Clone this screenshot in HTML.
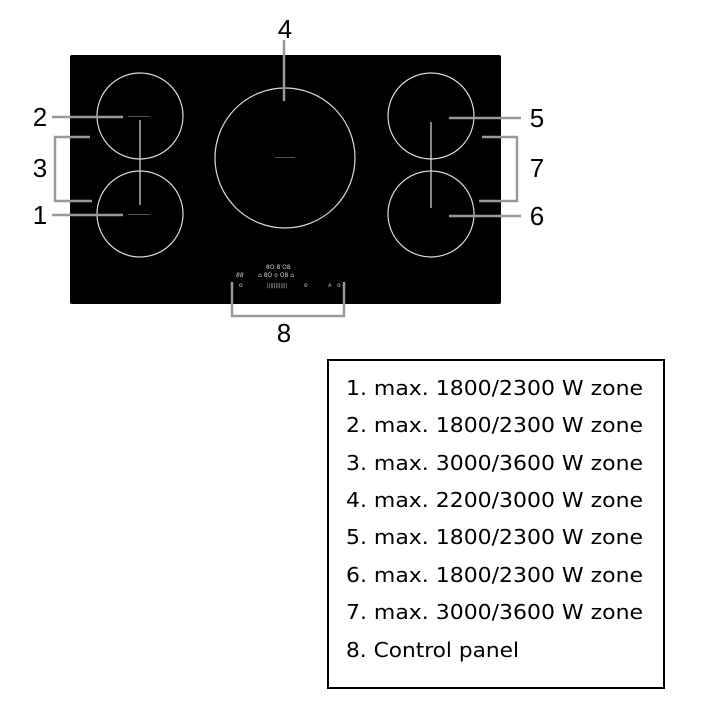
<!DOCTYPE html>
<html><head><style>
html,body{margin:0;padding:0;background:#fff;width:720px;height:720px;overflow:hidden}
svg{display:block}
</style></head><body>
<svg width="720" height="720" viewBox="0 0 720 720" xmlns="http://www.w3.org/2000/svg">
<rect x="70" y="55" width="431" height="249" rx="2" fill="#000"/>
<g fill="none" stroke="#ddd" stroke-width="1.2">
<circle cx="140" cy="116" r="43"/>
<circle cx="140" cy="214" r="43"/>
<circle cx="285" cy="158" r="70"/>
<circle cx="431" cy="116" r="43"/>
<circle cx="431" cy="214" r="43"/>
<line x1="140" y1="120" x2="140" y2="205"/>
<line x1="431" y1="122" x2="431" y2="208"/>
</g>
<g fill="#666">
<rect x="128" y="116" width="22" height="0.8"/>
<rect x="128" y="214" width="22" height="0.8"/>
<rect x="275" y="157" width="20" height="0.8"/>
</g>
<g fill="#ccc" font-family="DejaVu Sans,sans-serif" font-size="6">
<text x="266" y="269">8O 8 O8</text>
<text x="258" y="277">⌂ 8O o O8 ⌂</text>
<text x="236" y="277" font-style="italic">88</text>
<text x="239" y="287">o</text>
<text x="267" y="287" font-size="5">||||||||||||</text>
<text x="304" y="287">o</text>
<text x="328" y="287">ᴧ</text>
<text x="337" y="287">o</text>
</g>
<g fill="none" stroke="#999" stroke-width="2.5">
<line x1="52" y1="117" x2="123" y2="117"/>
<line x1="52" y1="215" x2="123" y2="215"/>
<polyline points="90,137 55,137 55,201 92,201"/>
<line x1="284" y1="40" x2="284" y2="101"/>
<line x1="449" y1="118" x2="521" y2="118"/>
<line x1="449" y1="216" x2="521" y2="216"/>
<polyline points="482,137 517,137 517,201 479,201"/>
<polyline points="232,282 232,316 344,316 344,282"/>
</g>
<g fill="#000" font-family="Liberation Sans,sans-serif" font-size="26" text-anchor="middle">
<text x="40" y="126">2</text>
<text x="40" y="177">3</text>
<text x="40" y="224">1</text>
<text x="285" y="38">4</text>
<text x="537" y="127">5</text>
<text x="537" y="177">7</text>
<text x="537" y="225">6</text>
<text x="284" y="342">8</text>
</g>
<rect x="328" y="360" width="336" height="328" fill="none" stroke="#000" stroke-width="2"/>
<g fill="#000" font-family="DejaVu Sans,Liberation Sans,sans-serif" font-size="20.5">
<text x="346" y="395" textLength="297" lengthAdjust="spacingAndGlyphs">1. max. 1800/2300 W zone</text>
<text x="346" y="432" textLength="297" lengthAdjust="spacingAndGlyphs">2. max. 1800/2300 W zone</text>
<text x="346" y="470" textLength="297" lengthAdjust="spacingAndGlyphs">3. max. 3000/3600 W zone</text>
<text x="346" y="507" textLength="297" lengthAdjust="spacingAndGlyphs">4. max. 2200/3000 W zone</text>
<text x="346" y="544" textLength="297" lengthAdjust="spacingAndGlyphs">5. max. 1800/2300 W zone</text>
<text x="346" y="582" textLength="297" lengthAdjust="spacingAndGlyphs">6. max. 1800/2300 W zone</text>
<text x="346" y="619" textLength="297" lengthAdjust="spacingAndGlyphs">7. max. 3000/3600 W zone</text>
<text x="346" y="657" textLength="173" lengthAdjust="spacingAndGlyphs">8. Control panel</text>
</g>
</svg>
</body></html>
